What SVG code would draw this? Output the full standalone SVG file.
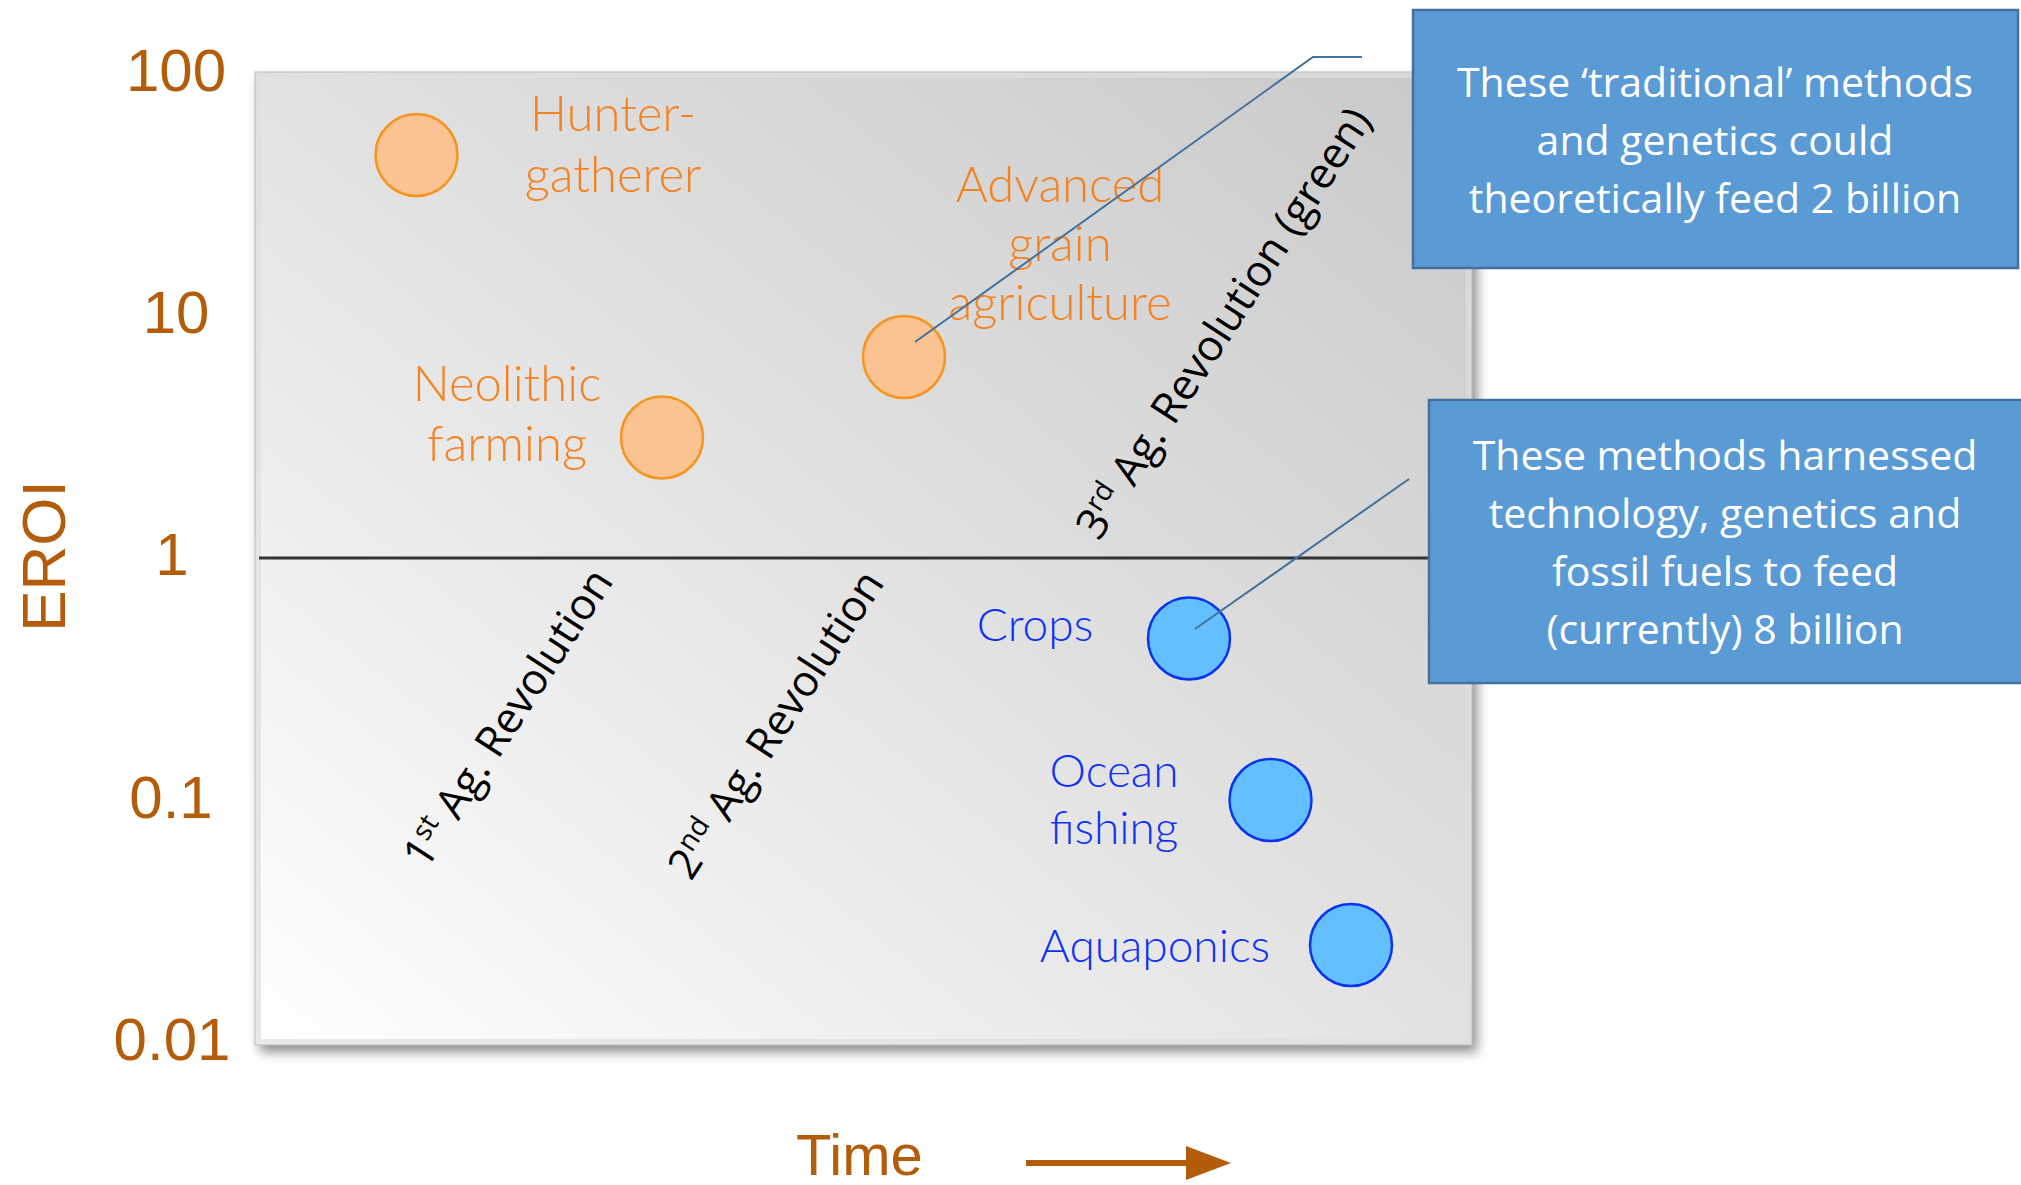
<svg xmlns="http://www.w3.org/2000/svg" width="2021" height="1185" viewBox="0 0 2021 1185">
  <defs>
    <linearGradient id="panelGrad" x1="0" y1="1" x2="1" y2="0">
      <stop offset="0" stop-color="#ffffff"/>
      <stop offset="0.5" stop-color="#e2e2e2"/>
      <stop offset="1" stop-color="#c9c9c9"/>
    </linearGradient>
    <filter id="shadow" x="-5%" y="-5%" width="112%" height="112%">
      <feDropShadow dx="5" dy="7" stdDeviation="6" flood-color="#000" flood-opacity="0.45"/>
    </filter>
  </defs>
  <style>
    .tick { font-family: "Liberation Sans", Arial, sans-serif; font-size: 60px; fill: #b35c0a; text-anchor: middle; }
    .axis { font-family: "Liberation Sans", Arial, sans-serif; fill: #b35c0a; }
    .orange { font-family: Lato, "Open Sans", sans-serif; font-weight: 300; font-size: 49px; fill: #f58220; text-anchor: middle; }
    .blue { font-family: Lato, "Open Sans", sans-serif; font-weight: 300; font-size: 46px; fill: #1030f5; text-anchor: middle; }
    .ocirc { fill: #fbc392; stroke: #f7941e; stroke-width: 2.5; }
    .bcirc { fill: #63bfff; stroke: #0a34ee; stroke-width: 2.5; }
    .rev { font-family: "Open Sans", "Liberation Sans", sans-serif; font-size: 43px; fill: #000; }
    .box { fill: #5b9bd5; stroke: #41719c; stroke-width: 2.5; }
    .boxtext { font-family: "Open Sans", "Liberation Sans", sans-serif; font-size: 41px; fill: #fff; text-anchor: middle; }
    .callout { fill: none; stroke: #41719c; stroke-width: 2; }
  </style>

  <!-- plot panel -->
  <g id="panel">
    <rect x="255" y="72" width="1217" height="973" fill="url(#panelGrad)" filter="url(#shadow)"/>
    <rect x="258" y="75" width="1211" height="967" fill="none" stroke="#dedede" stroke-width="6" opacity="0.7"/>
    <rect x="255" y="72" width="1217" height="973" fill="none" stroke="#bdbdbd" stroke-width="1"/>
    <line x1="259" y1="558" x2="1430" y2="558" stroke="#333" stroke-width="3"/>
  </g>

  <!-- axis -->
  <g id="y-axis">
    <text class="tick" x="176" y="91">100</text>
    <text class="tick" x="176" y="333">10</text>
    <text class="tick" x="172" y="575">1</text>
    <text class="tick" x="171" y="818">0.1</text>
    <text class="tick" x="172" y="1060">0.01</text>
    <text class="axis" font-size="62" text-anchor="middle" transform="translate(65,556) rotate(-90)">EROI</text>
  </g>
  <g id="x-axis">
    <text class="axis" font-size="58" x="796" y="1175">Time</text>
    <line x1="1026" y1="1163" x2="1190" y2="1163" stroke="#b35c0a" stroke-width="6"/>
    <polygon points="1186,1146 1231,1163 1186,1180" fill="#b35c0a"/>
  </g>

  <!-- revolution labels -->
  <g id="rev1">
    <text class="rev" transform="translate(426,871) rotate(-57)">1<tspan font-size="28" dy="-15">st</tspan><tspan dy="15"> Ag. Revolution</tspan></text>
  </g>
  <g id="rev2">
    <text class="rev" transform="translate(691,882) rotate(-57)">2<tspan font-size="28" dy="-15">nd</tspan><tspan dy="15"> Ag. Revolution</tspan></text>
  </g>
  <g id="rev3">
    <text class="rev" transform="translate(1099,542) rotate(-57)">3<tspan font-size="28" dy="-15">rd</tspan><tspan dy="15"> Ag. Revolution (green)</tspan></text>
  </g>

  <!-- data nodes -->
  <g id="hunter-gatherer">
    <circle class="ocirc" cx="416.5" cy="155" r="41"/>
    <text class="orange" x="613" y="131">Hunter-</text>
    <text class="orange" x="613" y="192">gatherer</text>
  </g>
  <g id="neolithic-farming">
    <circle class="ocirc" cx="662" cy="437.5" r="41"/>
    <text class="orange" x="507" y="401">Neolithic</text>
    <text class="orange" x="507" y="461">farming</text>
  </g>
  <g id="advanced-grain">
    <circle class="ocirc" cx="904" cy="357" r="41"/>
    <text class="orange" x="1060" y="202">Advanced</text>
    <text class="orange" x="1060" y="261">grain</text>
    <text class="orange" x="1060" y="320">agriculture</text>
  </g>
  <g id="crops">
    <circle class="bcirc" cx="1189" cy="638.5" r="41"/>
    <text class="blue" x="1035" y="641">Crops</text>
  </g>
  <g id="ocean-fishing">
    <circle class="bcirc" cx="1270.5" cy="800" r="41"/>
    <text class="blue" x="1114" y="787">Ocean</text>
    <text class="blue" x="1114" y="844">fishing</text>
  </g>
  <g id="aquaponics">
    <circle class="bcirc" cx="1351" cy="945" r="41"/>
    <text class="blue" x="1155" y="962">Aquaponics</text>
  </g>

  <!-- connectors -->
  <g id="connectors">
    <polyline class="callout" points="915,342 1313,57 1362,57"/>
    <line class="callout" x1="1195" y1="629" x2="1409" y2="479"/>
  </g>

  <!-- callout boxes -->
  <g id="box-traditional">
    <rect class="box" x="1413" y="10" width="605" height="258"/>
    <text class="boxtext" x="1715" y="97">These ‘traditional’ methods</text>
    <text class="boxtext" x="1715" y="155">and genetics could</text>
    <text class="boxtext" x="1715" y="213">theoretically feed 2 billion</text>
  </g>
  <g id="box-modern">
    <rect class="box" x="1429" y="400" width="600" height="283"/>
    <text class="boxtext" x="1725" y="470">These methods harnessed</text>
    <text class="boxtext" x="1725" y="528">technology, genetics and</text>
    <text class="boxtext" x="1725" y="586">fossil fuels to feed</text>
    <text class="boxtext" x="1725" y="644">(currently) 8 billion</text>
  </g>
</svg>
